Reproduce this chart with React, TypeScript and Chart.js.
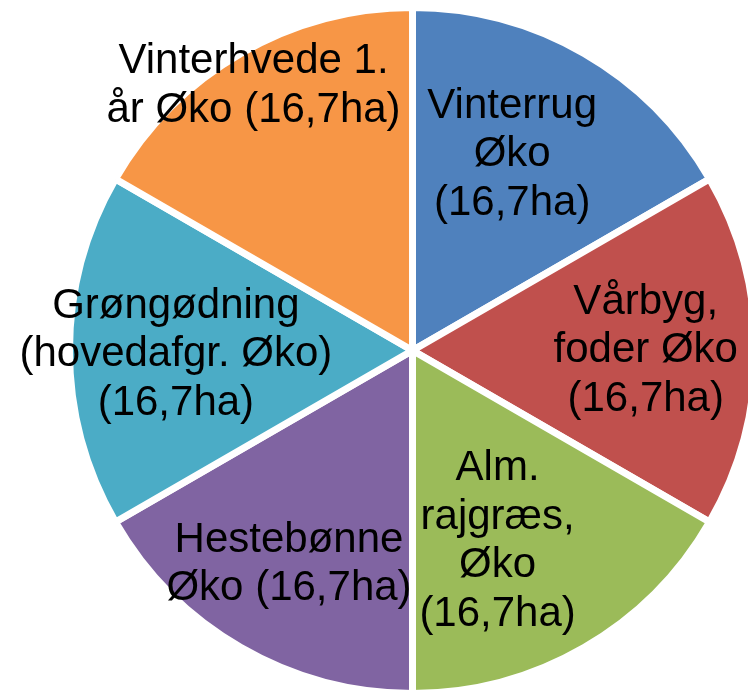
import React, { useEffect, useRef } from "react";
import { Chart, registerables } from "chart.js";

Chart.register(...registerables);

const categories = [
  "Vinterrug Øko (16,7ha)",
  "Vårbyg, foder Øko (16,7ha)",
  "Alm. rajgræs, Øko (16,7ha)",
  "Hestebønne Øko (16,7ha)",
  "Grøngødning (hovedafgr. Øko) (16,7ha)",
  "Vinterhvede 1. år Øko (16,7ha)",
];
const values = [16.7, 16.7, 16.7, 16.7, 16.7, 16.7];
const labelLines = [
  ["Vinterrug", "Øko", "(16,7ha)"],
  ["Vårbyg,", "foder Øko", "(16,7ha)"],
  ["Alm.", "rajgræs,", "Øko", "(16,7ha)"],
  ["Hestebønne", "Øko (16,7ha)"],
  ["Grøngødning", "(hovedafgr. Øko)", "(16,7ha)"],
  ["Vinterhvede 1.", "år Øko (16,7ha)"],
];
const colors = ["#4F81BD", "#C0504D", "#9BBB59", "#8064A2", "#4BACC6", "#F79646"];

// label placement: radial fraction of outer radius, and angle offset (deg) from slice middle
const labelRadius = [0.64, 0.68, 0.61, 0.72, 0.69, 0.9];
const labelAngleOffset = [-3, 0, 6, 0, -1, -1];

const FONT = "42px 'Liberation Sans', Arial, sans-serif";
const LINE_H = 48.5;

const labelPlugin = {
  id: "sliceLabels",
  afterDatasetsDraw(chart: any) {
    const ctx = chart.ctx;
    const meta = chart.getDatasetMeta(0);
    ctx.save();
    ctx.font = FONT;
    ctx.fillStyle = "#000000";
    ctx.textAlign = "center";
    ctx.textBaseline = "middle";
    meta.data.forEach((arc: any, i: number) => {
      const p = arc.getProps(["x", "y", "startAngle", "endAngle", "outerRadius"], true);
      const mid = (p.startAngle + p.endAngle) / 2 + (labelAngleOffset[i] * Math.PI) / 180;
      const r = p.outerRadius * labelRadius[i];
      const cx = p.x + Math.cos(mid) * r;
      const cy = p.y + Math.sin(mid) * r;
      const lines = labelLines[i];
      const start = cy - ((lines.length - 1) * LINE_H) / 2;
      lines.forEach((ln, j) => {
        ctx.fillText(ln, cx, start + j * LINE_H);
      });
    });
    ctx.restore();
  },
};

export default function App() {
  const ref = useRef<HTMLCanvasElement | null>(null);
  useEffect(() => {
    if (!ref.current) return;
    const chart = new Chart(ref.current, {
      type: "pie",
      data: {
        labels: categories,
        datasets: [
          {
            data: values,
            backgroundColor: colors,
            borderColor: "#ffffff",
            borderWidth: 7,
            hoverOffset: 0,
          },
        ],
      },
      options: {
        responsive: false,
        animation: false,
        layout: { padding: { left: 66, right: 41, top: 4, bottom: 3 } },
        plugins: {
          legend: { display: false },
          tooltip: { enabled: false },
        },
      },
      plugins: [labelPlugin],
    });
    return () => chart.destroy();
  }, []);
  return (
    <div
      style={{
        position: "fixed",
        left: 0,
        top: 0,
        width: 748,
        height: 691,
        overflow: "hidden",
        background: "#ffffff",
      }}
    >
      <canvas
        ref={ref}
        width={800}
        height={700}
        style={{ position: "absolute", left: 0, top: 0, width: 800, height: 700 }}
      />
    </div>
  );
}
